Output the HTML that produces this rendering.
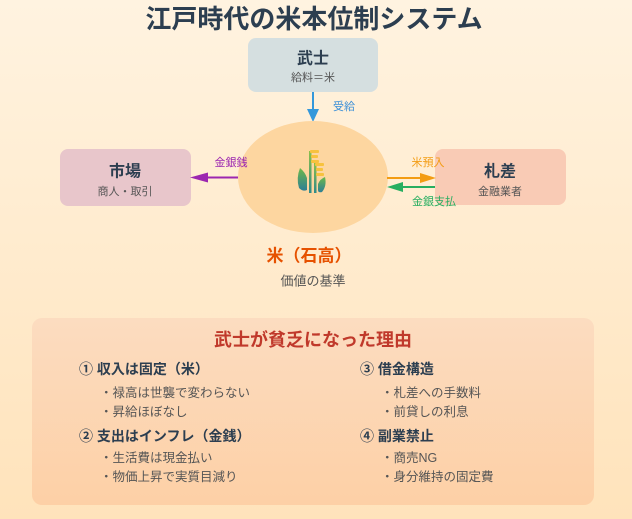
<!DOCTYPE html>
<html><head><meta charset="utf-8"><style>
html,body{margin:0;padding:0;}
body{width:632px;height:519px;overflow:hidden;background:linear-gradient(180deg,#fff3e0 0%,#ffe3bb 100%);}
svg{display:block;}
text{font-family:"Liberation Sans","Noto Sans CJK JP",sans-serif;}
</style></head><body>
<svg width="632" height="519" viewBox="0 0 632 519" xmlns="http://www.w3.org/2000/svg">
<defs>
<linearGradient id="pg" x1="0" y1="0" x2="0" y2="1"><stop offset="0" stop-color="#fcdcc0"/><stop offset="1" stop-color="#fdd0a6"/></linearGradient>
<linearGradient id="stem" x1="0" y1="0" x2="0" y2="1"><stop offset="0" stop-color="#8cc04a"/><stop offset="1" stop-color="#2e8a8a"/></linearGradient>
<linearGradient id="leaf" x1="0" y1="0" x2="0" y2="1"><stop offset="0" stop-color="#6cb84a"/><stop offset="1" stop-color="#2f7f95"/></linearGradient>
</defs>

<text x="314" y="19" text-anchor="middle" dominant-baseline="central" font-size="26" font-weight="bold" fill="#2c3e50">江戸時代の米本位制システム</text>

<!-- 武士 -->
<rect x="248" y="38" width="130" height="54" rx="8" fill="#d5dfe0"/>
<text x="313" y="59" text-anchor="middle" dominant-baseline="central" font-size="16" font-weight="bold" fill="#2c3e50">武士</text>
<text x="313" y="78" text-anchor="middle" dominant-baseline="central" font-size="11" fill="#555">給料＝米</text>

<!-- blue arrow -->
<line x1="313" y1="92" x2="313" y2="112" stroke="#3498db" stroke-width="2"/>
<polygon points="307,109 319,109 313,122" fill="#3498db"/>
<text x="333" y="107" dominant-baseline="central" font-size="11" fill="#3a8fd8">受給</text>

<!-- ellipse -->
<ellipse cx="313" cy="177" rx="75" ry="56" fill="#fdd6a0"/>
<!-- rice icon -->
<g>
<rect x="309" y="151" width="2.5" height="42" fill="url(#stem)"/>
<rect x="314" y="163" width="2.5" height="30" fill="url(#stem)"/>
<path d="M300,168 Q296,178 299,188 Q303,192 307,190 L307,178 Q305,172 300,168 Z" fill="url(#leaf)"/>
<path d="M325,177 Q327,186 322,192 Q318,193 318,190 L318,184 Q320,179 325,177 Z" fill="url(#leaf)"/>
<g fill="#f7c23e">
<rect x="310" y="150" width="9" height="3" rx="1"/>
<rect x="311" y="155" width="7" height="3" rx="1"/>
<rect x="311" y="160" width="8" height="3" rx="1"/>
<rect x="315" y="163" width="9" height="3" rx="1"/>
<rect x="316" y="168" width="7" height="3" rx="1"/>
<rect x="316" y="173" width="8" height="3" rx="1"/>
</g>
</g>

<text x="309" y="256" text-anchor="middle" dominant-baseline="central" font-size="17" font-weight="bold" fill="#e65100">米（石高）</text>
<text x="313" y="281" text-anchor="middle" dominant-baseline="central" font-size="13" fill="#555">価値の基準</text>

<!-- 市場 -->
<rect x="60" y="149" width="131" height="57" rx="8" fill="#e8c6cb"/>
<text x="125" y="172" text-anchor="middle" dominant-baseline="central" font-size="16" font-weight="bold" fill="#2c3e50">市場</text>
<text x="125" y="192" text-anchor="middle" dominant-baseline="central" font-size="11" fill="#555">商人・取引</text>
<line x1="238" y1="177.5" x2="200" y2="177.5" stroke="#9c27b0" stroke-width="2"/>
<polygon points="208,172.5 208,182.5 190,177.5" fill="#9c27b0"/>
<text x="231" y="163" text-anchor="middle" dominant-baseline="central" font-size="11" fill="#9c27b0">金銀銭</text>

<!-- 札差 -->
<rect x="435" y="149" width="131" height="56" rx="8" fill="#f9cbb5"/>
<text x="500" y="172" text-anchor="middle" dominant-baseline="central" font-size="16" font-weight="bold" fill="#2c3e50">札差</text>
<text x="500" y="192" text-anchor="middle" dominant-baseline="central" font-size="11" fill="#555">金融業者</text>
<line x1="387" y1="178" x2="424" y2="178" stroke="#f39c12" stroke-width="2"/>
<polygon points="420,173 420,183 436,178" fill="#f39c12"/>
<text x="428" y="163" text-anchor="middle" dominant-baseline="central" font-size="11" fill="#f39c12">米預入</text>
<line x1="435" y1="187" x2="398" y2="187" stroke="#27ae60" stroke-width="2"/>
<polygon points="403,182 403,192 387,187" fill="#27ae60"/>
<text x="434" y="202" text-anchor="middle" dominant-baseline="central" font-size="11" fill="#27ae60">金銀支払</text>

<!-- bottom panel -->
<rect x="32" y="318" width="562" height="187" rx="10" fill="url(#pg)"/>
<text x="313" y="340" text-anchor="middle" dominant-baseline="central" font-size="18" font-weight="bold" fill="#c0392b">武士が貧乏になった理由</text>

<g font-size="14" font-weight="bold" fill="#2c3e50">
<text x="79" y="369" dominant-baseline="central">① 収入は固定（米）</text>
<text x="79" y="436" dominant-baseline="central">② 支出はインフレ（金銭）</text>
<text x="360" y="369" dominant-baseline="central">③ 借金構造</text>
<text x="360" y="436" dominant-baseline="central">④ 副業禁止</text>
</g>
<g font-size="12.5" fill="#555">
<text x="100" y="393" dominant-baseline="central">・禄高は世襲で変わらない</text>
<text x="100" y="412" dominant-baseline="central">・昇給ほぼなし</text>
<text x="100" y="458" dominant-baseline="central">・生活費は現金払い</text>
<text x="100" y="477" dominant-baseline="central">・物価上昇で実質目減り</text>
<text x="381" y="393" dominant-baseline="central">・札差への手数料</text>
<text x="381" y="412" dominant-baseline="central">・前貸しの利息</text>
<text x="381" y="458" dominant-baseline="central">・商売NG</text>
<text x="381" y="477" dominant-baseline="central">・身分維持の固定費</text>
</g>
</svg>
</body></html>
